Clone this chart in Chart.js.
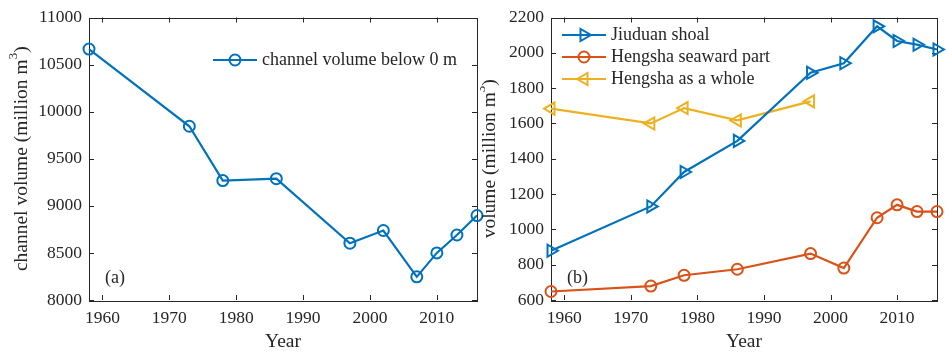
<!DOCTYPE html>
<html>
<head>
<meta charset="utf-8">
<script src="https://cdn.jsdelivr.net/npm/chart.js@4"></script>
<style>
  html, body { margin: 0; padding: 0; background: #fff; }
  #wrap { position: relative; width: 946px; height: 353px; }
  .panel { position: absolute; top: 0; height: 353px; }
  #leftBox { left: 0; width: 492px; }
  #rightBox { left: 480px; width: 466px; }
</style>
</head>
<body>
<div id="wrap">
  <div class="panel" id="leftBox"><canvas id="leftChart"></canvas></div>
  <div class="panel" id="rightBox"><canvas id="rightChart"></canvas></div>
</div>
<script>
// data
const years = [1958, 1973, 1978, 1986, 1997, 2002, 2007, 2010, 2013, 2016];
const channelVolume = [10665, 9845, 9268, 9288, 8603, 8738, 8246, 8500, 8690, 8897];
const jiuduanShoal = [879, 1130, 1325, 1501, 1887, 1941, 2150, 2067, 2046, 2019];
const hengshaSeaward = [648, 679, 740, 774, 863, 781, 1066, 1139, 1101, 1101];
const hengshaWholeYears = [1958, 1973, 1978, 1986, 1997];
const hengshaWhole = [1684, 1600, 1687, 1617, 1725];

const xTicks = [1960, 1970, 1980, 1990, 2000, 2010];
const leftYTicks = [8000, 8500, 9000, 9500, 10000, 10500, 11000];
const rightYTicks = [600, 800, 1000, 1200, 1400, 1600, 1800, 2000, 2200];

const BLUE = '#0072BD', RED = '#D95319', YELLOW = '#EDB120';
const AXIS = '#262626';
const FONT = '"Liberation Serif", "DejaVu Serif", serif';

function toPoints(xs, ys) {
  return xs.map((x, i) => ({ x: x, y: ys[i] }));
}

function series(label, xs, ys, color, style, rot, r) {
  return {
    label: label,
    data: toPoints(xs, ys),
    borderColor: color,
    backgroundColor: color,
    borderWidth: 2.2,
    pointStyle: style,
    pointRotation: rot,
    pointRadius: r,
    pointHoverRadius: r,
    pointBorderWidth: 2,
    pointBorderColor: color,
    pointBackgroundColor: 'rgba(0,0,0,0)',
    tension: 0,
    clip: false
  };
}

// box, inward ticks, titles and legend drawn on top of the chart area
const decorPlugin = {
  id: 'decor',
  beforeDatasetsDraw(chart) {
    const ctx = chart.ctx, a = chart.chartArea;
    const xs = chart.scales.x, ys = chart.scales.y;
    ctx.save();
    ctx.strokeStyle = AXIS;
    ctx.lineWidth = 1;
    ctx.strokeRect(Math.round(a.left) + 0.5, Math.round(a.top) + 0.5,
      Math.round(a.right - a.left), Math.round(a.bottom - a.top));
    ctx.beginPath();
    xs.ticks.forEach(t => {
      const px = Math.round(xs.getPixelForValue(t.value)) + 0.5;
      ctx.moveTo(px, a.bottom); ctx.lineTo(px, a.bottom - 5);
      ctx.moveTo(px, a.top); ctx.lineTo(px, a.top + 5);
    });
    ys.ticks.forEach(t => {
      const py = Math.round(ys.getPixelForValue(t.value)) + 0.5;
      ctx.moveTo(a.left, py); ctx.lineTo(a.left + 5, py);
      ctx.moveTo(a.right, py); ctx.lineTo(a.right - 5, py);
    });
    ctx.stroke();
    ctx.restore();
  },
  afterDraw(chart) {
    const opts = chart.options.plugins.decor;
    const ctx = chart.ctx, a = chart.chartArea;
    ctx.save();
    ctx.fillStyle = AXIS;
    ctx.textBaseline = 'middle';

    // x title
    ctx.font = '19.5px ' + FONT;
    ctx.textAlign = 'center';
    ctx.fillText('Year', (a.left + a.right) / 2, 342);

    // y title with superscript
    ctx.save();
    ctx.translate(opts.yTitleX, (a.top + a.bottom) / 2);
    ctx.rotate(-Math.PI / 2);
    ctx.textAlign = 'left';
    const main = opts.yTitle + ' (million m';
    ctx.font = '19.5px ' + FONT;
    const w1 = ctx.measureText(main).width;
    const w3 = ctx.measureText(')').width;
    ctx.font = '13px ' + FONT;
    const w2 = ctx.measureText('3').width;
    const start = -(w1 + w2 + w3) / 2;
    ctx.font = '19.5px ' + FONT;
    ctx.fillText(main, start, 0);
    ctx.font = '13px ' + FONT;
    ctx.fillText('3', start + w1, -8);
    ctx.font = '19.5px ' + FONT;
    ctx.fillText(')', start + w1 + w2, 0);
    ctx.restore();

    // panel label
    ctx.font = '18px ' + FONT;
    ctx.textAlign = 'left';
    ctx.fillText(opts.panel, opts.panelX, 278);

    // legend
    chart.data.datasets.forEach((ds, i) => {
      const ly = opts.legendY + i * opts.legendStep;
      ctx.strokeStyle = ds.borderColor;
      ctx.lineWidth = 2.2;
      ctx.beginPath();
      ctx.moveTo(opts.legendX, ly);
      ctx.lineTo(opts.legendX + 44, ly);
      ctx.stroke();
      ctx.lineWidth = 2;
      ctx.fillStyle = 'rgba(0,0,0,0)';
      Chart.helpers.drawPoint(ctx, {
        pointStyle: ds.pointStyle,
        rotation: ds.pointRotation,
        radius: ds.pointRadius,
        borderWidth: 2
      }, opts.legendX + 22, ly);
      ctx.fillStyle = AXIS;
      ctx.font = '18px ' + FONT;
      ctx.fillText(ds.label, opts.legendX + 49, ly);
    });
    ctx.restore();
  }
};

function makeOptions(yMin, yMax, yTickList, yWidth, padRight, decor) {
  return {
    responsive: false,
    animation: false,
    layout: { padding: { top: 13, right: padRight, left: 0, bottom: 0 } },
    plugins: {
      legend: { display: false },
      tooltip: { enabled: false },
      decor: decor
    },
    scales: {
      x: {
        type: 'linear',
        min: 1958, max: 2016,
        afterBuildTicks: s => { s.ticks = xTicks.map(v => ({ value: v })); },
        afterFit: s => { s.height = 53; },
        grid: { display: false, drawTicks: false },
        border: { display: false },
        ticks: {
          color: AXIS, padding: 8, maxRotation: 0,
          font: { family: FONT, size: 17.5 },
          callback: v => String(v)
        }
      },
      y: {
        type: 'linear',
        min: yMin, max: yMax,
        afterBuildTicks: s => { s.ticks = yTickList.map(v => ({ value: v })); },
        afterFit: s => { s.width = yWidth; },
        grid: { display: false, drawTicks: false },
        border: { display: false },
        ticks: {
          color: AXIS, padding: 7,
          font: { family: FONT, size: 17.5 },
          callback: v => String(v)
        }
      }
    }
  };
}

function makeCanvas(id, w) {
  const c = document.getElementById(id);
  c.width = w; c.height = 353;
  c.style.width = w + 'px'; c.style.height = '353px';
  return c;
}

new Chart(makeCanvas('leftChart', 492), {
  type: 'line',
  data: {
    datasets: [
      series('channel volume below 0 m', years, channelVolume, BLUE, 'circle', 0, 5.5)
    ]
  },
  options: makeOptions(8000, 11000, leftYTicks, 89, 15, {
    yTitle: 'channel volume', yTitleX: 22, panel: '(a)', panelX: 105,
    legendX: 213, legendY: 60, legendStep: 22
  }),
  plugins: [decorPlugin]
});

new Chart(makeCanvas('rightChart', 466), {
  type: 'line',
  data: {
    datasets: [
      series('Jiuduan shoal', years, jiuduanShoal, BLUE, 'triangle', 90, 7),
      series('Hengsha seaward part', years, hengshaSeaward, RED, 'circle', 0, 5.5),
      series('Hengsha as a whole', hengshaWholeYears, hengshaWhole, YELLOW, 'triangle', -90, 7)
    ]
  },
  options: makeOptions(600, 2200, rightYTicks, 71, 6, {
    yTitle: 'volume', yTitleX: 10, panel: '(b)', panelX: 87,
    legendX: 82, legendY: 35, legendStep: 22
  }),
  plugins: [decorPlugin]
});
</script>
</body>
</html>
